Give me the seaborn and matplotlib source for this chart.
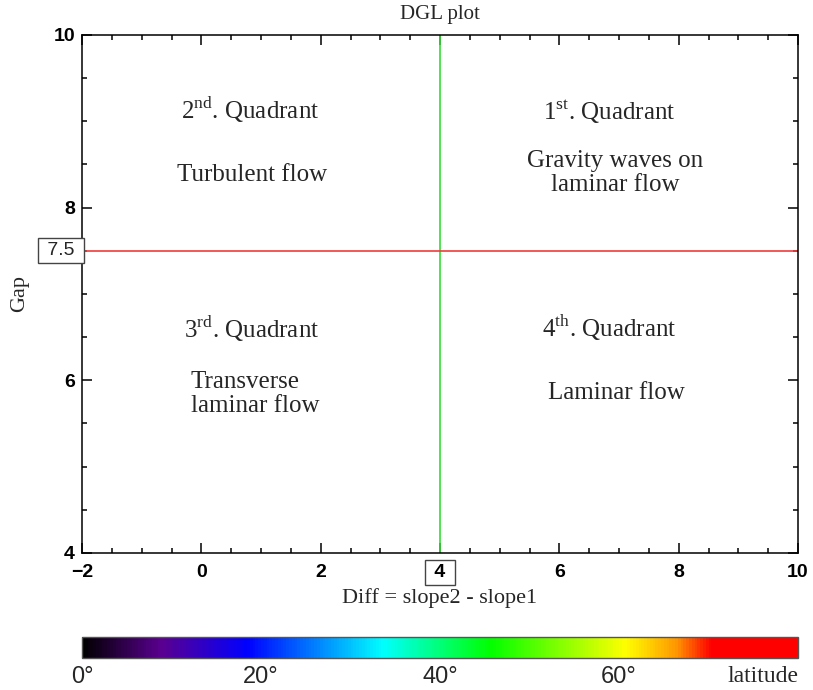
import numpy as np
import pandas as pd
import seaborn as sns
import matplotlib.pyplot as plt
import matplotlib.transforms as mtransforms
from matplotlib.colors import LinearSegmentedColormap, Normalize
from matplotlib.cm import ScalarMappable
from matplotlib.ticker import MultipleLocator

# axis ranges and thresholds
diff_range = [-2, 10]
gap_range = [4, 10]
diff_threshold = 4.0
gap_threshold = 7.5

x_ticks = [-2, 0, 2, 4, 6, 8, 10]
x_tick_labels = ["\u22122", "0", "2", " 4 ", "6", "8", "10"]
y_ticks = [4, 6, 8, 10]

# quadrant annotations (x, y in data units)
quad_titles = [r"2$^{\mathrm{nd}}$. Quadrant", r"1$^{\mathrm{st}}$. Quadrant",
               r"3$^{\mathrm{rd}}$. Quadrant", r"4$^{\mathrm{th}}$. Quadrant"]
quad_title_x = [0.82, 6.83, 0.85, 6.83]
quad_title_y = [9.13, 9.11, 6.59, 6.61]
quad_desc = ["Turbulent flow", "Gravity waves on\nlaminar flow",
             "Transverse\nlaminar flow", "Laminar flow"]
quad_desc_x = [0.85, 6.93, -0.18, 6.95]
quad_desc_y = [8.38, 8.40, 5.84, 5.85]

# colour bar
lat_range = [0, 80]
lat_ticks = [0, 20, 40, 60]
cmap_pos = [0.0, 0.11, 0.23, 0.42, 0.57, 0.76, 0.83, 0.88, 1.0]
cmap_cols = ["#000000", "#5a0090", "#0000ff", "#00ffff", "#00ff00",
             "#ffff00", "#ff9900", "#ff0000", "#ff0000"]

sns.set_theme(style="ticks")
plt.rcParams["mathtext.fontset"] = "custom"
plt.rcParams["mathtext.rm"] = "Liberation Serif"
plt.rcParams["font.family"] = ["Liberation Sans", "DejaVu Sans"]

fig = plt.figure(figsize=(8.13, 6.9), dpi=100)
ax = fig.add_axes([0.1009, 0.1986, 0.8807, 0.7507])
ax.set_facecolor("white")

# threshold lines (estimator=None so the vertical line is not aggregated)
vline = pd.DataFrame({"x": [diff_threshold, diff_threshold], "y": gap_range})
hline = pd.DataFrame({"x": diff_range, "y": [gap_threshold, gap_threshold]})
sns.lineplot(data=vline, x="x", y="y", sort=False, estimator=None,
             color="#33dd33", lw=1.2, ax=ax)
sns.lineplot(data=hline, x="x", y="y", sort=False, estimator=None,
             color="#ee3c3c", lw=1.2, ax=ax)

ax.set_xlim(diff_range)
ax.set_ylim(gap_range)
ax.set_xticks(x_ticks)
ax.set_xticklabels(x_tick_labels)
ax.set_yticks(y_ticks)
ax.xaxis.set_minor_locator(MultipleLocator(0.5))
ax.yaxis.set_minor_locator(MultipleLocator(0.5))
ax.tick_params(which="both", direction="in", top=True, right=True, width=1.1,
               colors="black", labelsize=14)
ax.tick_params(axis="x", which="both", pad=8)
ax.tick_params(axis="y", which="both", pad=5)
ax.tick_params(which="major", length=7.5)
ax.tick_params(which="minor", length=3.8)
for lab in ax.get_xticklabels() + ax.get_yticklabels():
    lab.set_fontweight("bold")
for s in ax.spines.values():
    s.set_color("black")
    s.set_linewidth(1.1)
ax.set_xlabel("")
ax.set_ylabel("")

# boxed threshold labels
box = dict(boxstyle="square,pad=0.2", fc="white", ec="#444444", lw=1.0)
for lab in ax.get_xticklabels():
    if abs(lab.get_position()[0] - diff_threshold) < 1e-9:
        lab.set_bbox(box)
trans = mtransforms.blended_transform_factory(ax.transAxes, ax.transData)
ax.text(-0.003, gap_threshold, f" {gap_threshold} ", transform=trans, ha="right",
        va="center", fontsize=14, bbox=box)

serif = ["Liberation Serif", "DejaVu Serif"]
for t, x, y in zip(quad_titles, quad_title_x, quad_title_y):
    ax.text(x, y, t, ha="center", va="center", fontsize=18, family=serif)
for i, (t, x, y) in enumerate(zip(quad_desc, quad_desc_x, quad_desc_y)):
    ax.text(x, y, t, ha="left" if i == 2 else "center", va="center",
            multialignment="left" if i == 2 else "center",
            fontsize=18, family=serif, linespacing=1.12)

fig.text(440 / 813, 1 - 15 / 690, "DGL plot", ha="center", va="center",
         fontsize=15, family=serif)
fig.text(440 / 813, 1 - 598 / 690, "Diff = slope2 - slope1", ha="center",
         va="center", fontsize=16, family=serif)
fig.text(20 / 813, 1 - 294 / 690, "Gap", ha="center", va="center", rotation=90,
         fontsize=16, family=serif)

# colour bar
cmap = LinearSegmentedColormap.from_list("lat", list(zip(cmap_pos, cmap_cols)))
cax = fig.add_axes([0.1009, 1 - 658 / 690, 0.8807, 21 / 690])
sm = ScalarMappable(norm=Normalize(*lat_range), cmap=cmap)
cb = fig.colorbar(sm, cax=cax, orientation="horizontal")
cb.outline.set_edgecolor("#555555")
cb.outline.set_linewidth(1.0)
cb.set_ticks(lat_ticks)
cb.set_ticklabels([f"{v}\u00b0" for v in lat_ticks])
cax.tick_params(length=0, labelsize=17, pad=6)
cax.text(1.0, -0.4, "latitude", transform=cax.transAxes, ha="right", va="top",
         fontsize=17, family=serif)

fig.savefig("out.png", dpi=100, facecolor="white")
